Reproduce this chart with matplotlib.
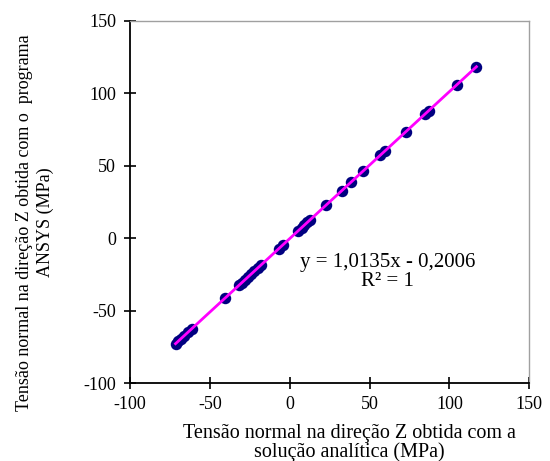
import numpy as np
import matplotlib
matplotlib.use("Agg")
import matplotlib.pyplot as plt

# tensao analitica (x) vs ANSYS (y), MPa
x_analitica = [-71.5, -70.0, -68.2, -66.0, -63.8, -61.5, -40.3, -31.8, -29.9, -28.0,
               -26.2, -24.0, -22.1, -20.0, -18.1, -6.9, -4.2, 5.3, 7.4, 9.2,
               11.0, 12.9, 22.8, 32.6, 38.2, 45.9, 56.8, 59.6, 72.8, 84.7,
               86.9, 104.8, 116.9]
y_ansys = [-72.67, -71.15, -69.32, -67.09, -64.86, -62.53, -41.04, -32.43, -30.50, -28.58,
           -26.75, -24.52, -22.60, -20.47, -18.54, -7.19, -4.46, 5.17, 7.30, 9.12,
           10.95, 12.87, 22.91, 32.84, 38.51, 46.32, 57.37, 60.20, 73.58, 85.64,
           87.87, 106.01, 118.28]
ticks = [-100, -50, 0, 50, 100, 150]
eq_texto = "y = 1,0135x - 0,2006\nR² = 1"

plt.rcParams['font.family'] = ['Liberation Serif', 'DejaVu Serif']
plt.rcParams['axes.unicode_minus'] = False

fig = plt.figure(figsize=(5.5, 4.61), dpi=100)
ax = fig.add_axes([0.2364, 0.1685, 0.7260, 0.7866])

ax.scatter(x_analitica, y_ansys, s=68, color='#000080', zorder=2, linewidths=0)

# linha de tendencia
a, b = np.polyfit(x_analitica, y_ansys, 1)
xl = np.array([min(x_analitica), max(x_analitica)])
ax.plot(xl, a * xl + b, color='#ff00ff', lw=2.0, zorder=3)

ax.set_xlim(-100, 150)
ax.set_ylim(-100, 150)
ax.set_xticks(ticks)
ax.set_yticks(ticks)
ax.tick_params(direction='inout', length=8, width=1.2, labelsize=13, pad=5)
ax.tick_params(axis='y', pad=6)

for s in ['left', 'bottom']:
    ax.spines[s].set_linewidth(1.3)
for s in ['top', 'right']:
    ax.spines[s].set_color('#a0a0a0')
    ax.spines[s].set_linewidth(1.0)

ax.text(0.645, 0.306, eq_texto, transform=ax.transAxes, ha='center', va='center',
        fontsize=15, linespacing=1.0)

fig.text(0.636, 0.039, "Tensão normal na direção Z obtida com a\nsolução analítica (MPa)",
         ha='center', va='center', fontsize=14.5, linespacing=0.95)
fig.text(0.064, 0.518, "Tensão normal na direção Z obtida com o  programa\nANSYS (MPa)",
         ha='center', va='center', rotation=90, fontsize=13, linespacing=1.3,
         multialignment='center')

fig.savefig("out.png", dpi=100)
